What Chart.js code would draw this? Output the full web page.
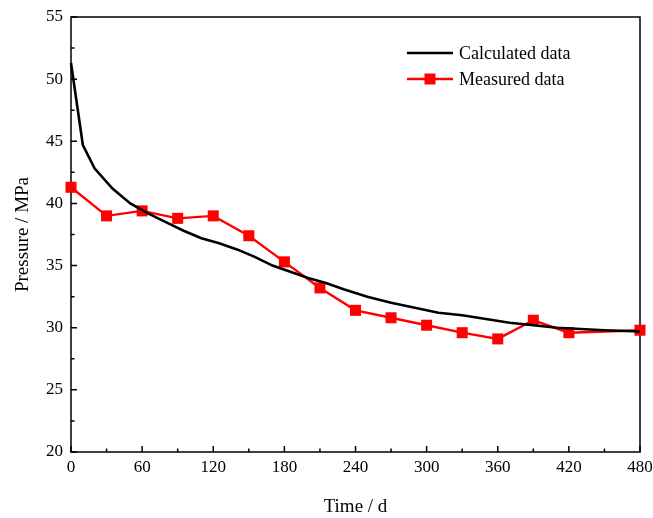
<!DOCTYPE html>
<html>
<head>
<meta charset="utf-8">
<script src="https://cdn.jsdelivr.net/npm/chart.js@4/dist/chart.umd.min.js"></script>
<style>
  html, body { margin: 0; padding: 0; background: #fff; }
  #wrap { width: 653px; height: 518px; }
</style>
</head>
<body>
<div id="wrap"><canvas id="pressureChart" width="653" height="518"></canvas></div>
<script>
// values
const calcDays = [0, 10, 20, 35, 50, 65, 80, 95, 110, 125, 140, 155, 170, 185, 200, 215, 230, 250, 270, 290, 310, 330, 350, 370, 390, 410, 430, 450, 480];
const calcPressure = [51.3, 44.7, 42.8, 41.2, 40.0, 39.2, 38.5, 37.8, 37.2, 36.8, 36.3, 35.7, 35.0, 34.5, 34.0, 33.6, 33.1, 32.5, 32.0, 31.6, 31.2, 31.0, 30.7, 30.4, 30.2, 30.0, 29.9, 29.8, 29.7];
const measDays = [0, 30, 60, 90, 120, 150, 180, 210, 240, 270, 300, 330, 360, 390, 420, 480];
const measPressure = [41.3, 39.0, 39.4, 38.8, 39.0, 37.4, 35.3, 33.2, 31.4, 30.8, 30.2, 29.6, 29.1, 30.6, 29.6, 29.8];
const seriesNames = ['Calculated data', 'Measured data'];
const xTicks = [0, 60, 120, 180, 240, 300, 360, 420, 480];
const yTicks = [20, 25, 30, 35, 40, 45, 50, 55];

const FONT = '"Liberation Serif", "Times New Roman", serif';
const toXY = (xs, ys) => xs.map((x, i) => ({ x, y: ys[i] }));

// frame box + inward major/minor ticks like the original plot
const frameTicks = {
  id: 'frameTicks',
  beforeDatasetsDraw(chart) {
    const { ctx, chartArea: a, scales: { x, y } } = chart;
    ctx.save();
    ctx.strokeStyle = '#000';
    ctx.lineWidth = 1.5;
    ctx.strokeRect(a.left, a.top, a.right - a.left, a.bottom - a.top);
    ctx.beginPath();
    for (let v = xTicks[0]; v <= xTicks[xTicks.length - 1]; v += 30) {
      const px = x.getPixelForValue(v);
      const len = v % 60 === 0 ? 6 : 3.5;
      ctx.moveTo(px, a.bottom);
      ctx.lineTo(px, a.bottom - len);
    }
    for (let v = yTicks[0]; v <= yTicks[yTicks.length - 1]; v += 2.5) {
      const py = y.getPixelForValue(v);
      const len = v % 5 === 0 ? 6 : 3.5;
      ctx.moveTo(a.left, py);
      ctx.lineTo(a.left + len, py);
    }
    ctx.stroke();
    ctx.restore();
  }
};

// legend inside the plot, top right
const innerLegend = {
  id: 'innerLegend',
  afterDraw(chart) {
    const { ctx } = chart;
    const x0 = 407, x1 = 453, tx = 459;
    const rows = [53, 79];
    ctx.save();
    ctx.font = '18px ' + FONT;
    ctx.textBaseline = 'middle';
    chart.data.datasets.forEach((ds, i) => {
      const yy = rows[i];
      ctx.strokeStyle = ds.borderColor;
      ctx.lineWidth = ds.borderWidth;
      ctx.beginPath();
      ctx.moveTo(x0, yy);
      ctx.lineTo(x1, yy);
      ctx.stroke();
      if (ds.pointRadius > 0) {
        ctx.fillStyle = ds.pointBackgroundColor;
        ctx.fillRect((x0 + x1) / 2 - 5.5, yy - 5.5, 11, 11);
      }
      ctx.fillStyle = '#000';
      ctx.fillText(seriesNames[i], tx, yy + 1);
    });
    ctx.restore();
  }
};

new Chart(document.getElementById('pressureChart'), {
  type: 'line',
  data: {
    datasets: [
      {
        label: seriesNames[0],
        data: toXY(calcDays, calcPressure),
        borderColor: '#000',
        borderWidth: 2.6,
        pointRadius: 0,
        tension: 0,
        clip: false,
      },
      {
        label: seriesNames[1],
        data: toXY(measDays, measPressure),
        borderColor: '#ff0000',
        borderWidth: 2.4,
        pointStyle: 'rect',
        pointRadius: 7.8,
        pointBorderWidth: 0,
        pointBackgroundColor: '#ff0000',
        pointBorderColor: '#ff0000',
        tension: 0,
        clip: false,
      },
    ],
  },
  options: {
    responsive: false,
    animation: false,
    layout: { padding: { left: 0, right: 13, top: 17, bottom: 0 } },
    plugins: { legend: { display: false }, tooltip: { enabled: false } },
    scales: {
      x: {
        type: 'linear',
        min: 0,
        max: 480,
        afterFit: s => { s.height = 66; s.paddingLeft = 0; s.paddingRight = 0; },
        afterBuildTicks: s => { s.ticks = xTicks.map(v => ({ value: v })); },
        grid: { display: false, drawTicks: false },
        border: { display: false },
        ticks: { color: '#000', padding: 5, maxRotation: 0, font: { family: FONT, size: 17 } },
        title: { display: true, text: 'Time / d', color: '#000', padding: { top: 0, bottom: 0 }, font: { family: FONT, size: 19 } },
      },
      y: {
        min: 20,
        max: 55,
        afterFit: s => { s.width = 71; s.paddingTop = 0; s.paddingBottom = 0; },
        afterBuildTicks: s => { s.ticks = yTicks.map(v => ({ value: v })); },
        grid: { display: false, drawTicks: false },
        border: { display: false },
        ticks: { color: '#000', padding: 8, font: { family: FONT, size: 17 } },
        title: { display: true, text: 'Pressure / MPa', color: '#000', padding: { top: 12, bottom: 0 }, font: { family: FONT, size: 19 } },
      },
    },
  },
  plugins: [frameTicks, innerLegend],
});
</script>
</body>
</html>
